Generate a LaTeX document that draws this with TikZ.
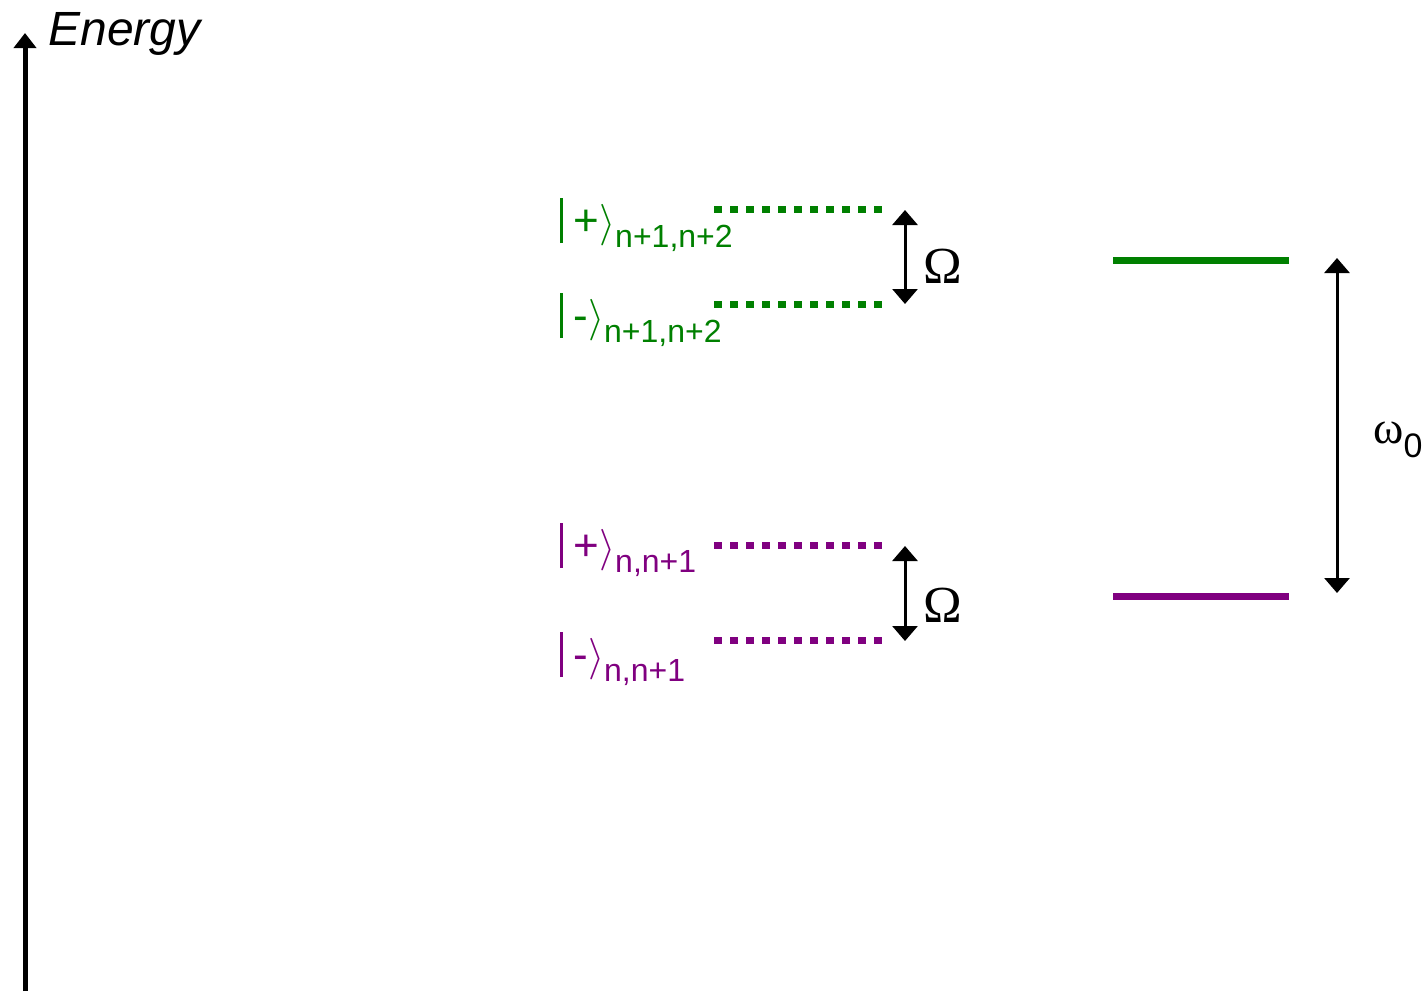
\documentclass[tikz,border=0pt]{standalone}
\usepackage{fontspec}
\setmainfont{Liberation Sans}
\newfontfamily\greekfont{Liberation Serif}
\usepackage{tikz}
\usetikzlibrary{positioning}
\usetikzlibrary{arrows.meta}
\definecolor{levelgreen}{RGB}{0,128,0}
\definecolor{levelpurple}{RGB}{128,0,128}
\newcommand{\statelabel}[2]{\rule[-4pt]{1.5pt}{22.5pt}\hspace{5pt}#1$\rangle$\raisebox{-6pt}{\fontsize{16}{18}\selectfont #2}}
\tikzset{
    axis line/.style = {line width=2.5pt, -{Triangle[width=11pt,length=7.5pt]}},
    gap arrow/.style = {line width=1.5pt, {Triangle[width=12.5pt,length=7.5pt]}-{Triangle[width=12.5pt,length=7.5pt]}},
    dotted level/.style = {line width=3.5pt, dash pattern=on 4pt off 4pt},
    solid level/.style = {line width=3.5pt},
    state label/.style = {anchor=base west, inner sep=0pt, font=\fontsize{22}{26}\selectfont},
    gap label/.style = {inner sep=0pt, font=\fontsize{26}{30}\selectfont\greekfont}
}
\begin{document}
\begin{tikzpicture}[x=0.5pt,y=-0.5pt]
    \useasboundingbox (0,0) rectangle (1428,991);
    % energy axis
    \coordinate (axis-bottom) at (25,991);
    \coordinate (axis-top) at (25,33);
    \draw[axis line] (axis-bottom) -- (axis-top);
    \node(energy)[anchor=base west,inner sep=0pt,font=\fontsize{24}{28}\selectfont\itshape] at (48,45) {Energy};
    % dressed states
    \coordinate (g-plus-l) at (714,209);  \coordinate (g-plus-r) at (882,209);
    \coordinate (g-minus-l) at (714,304); \coordinate (g-minus-r) at (882,304);
    \coordinate (p-plus-l) at (714,545);  \coordinate (p-plus-r) at (882,545);
    \coordinate (p-minus-l) at (714,640); \coordinate (p-minus-r) at (882,640);
    \draw[dotted level,levelgreen] (g-plus-l) -- (g-plus-r);
    \draw[dotted level,levelgreen] (g-minus-l) -- (g-minus-r);
    \draw[dotted level,levelpurple] (p-plus-l) -- (p-plus-r);
    \draw[dotted level,levelpurple] (p-minus-l) -- (p-minus-r);
    \node(g-plus)[state label,text=levelgreen] at (560,235) {\statelabel{+}{n+1,n+2}};
    \node(g-minus)[state label,text=levelgreen] at (560,330) {\statelabel{-}{n+1,n+2}};
    \node(p-plus)[state label,text=levelpurple] at (560,560) {\statelabel{+}{n,n+1}};
    \node(p-minus)[state label,text=levelpurple] at (560,669) {\statelabel{-}{n,n+1}};
    % Rabi splitting
    \coordinate (g-top) at (905,210); \coordinate (g-bot) at (905,304);
    \coordinate (p-top) at (905,546); \coordinate (p-bot) at (905,641);
    \draw[gap arrow] (g-top) -- (g-bot);
    \draw[gap arrow] (p-top) -- (p-bot);
    \node(g-omega)[gap label] at (943,266) {Ω};
    \node(p-omega)[gap label] at (943,605) {Ω};
    % bare levels
    \coordinate (g-bare-l) at (1113,260); \coordinate (g-bare-r) at (1289,260);
    \coordinate (p-bare-l) at (1113,596); \coordinate (p-bare-r) at (1289,596);
    \draw[solid level,levelgreen] (g-bare-l) -- (g-bare-r);
    \draw[solid level,levelpurple] (p-bare-l) -- (p-bare-r);
    \coordinate (w-top) at (1337,258); \coordinate (w-bot) at (1337,593);
    \draw[gap arrow] (w-top) -- (w-bot);
    \node(omega0)[anchor=base west,inner sep=0pt,font=\fontsize{23}{26}\selectfont] at (1373,443) {{\greekfont ω}\raisebox{-7pt}{\fontsize{17}{20}\selectfont 0}};
\end{tikzpicture}
\end{document}
